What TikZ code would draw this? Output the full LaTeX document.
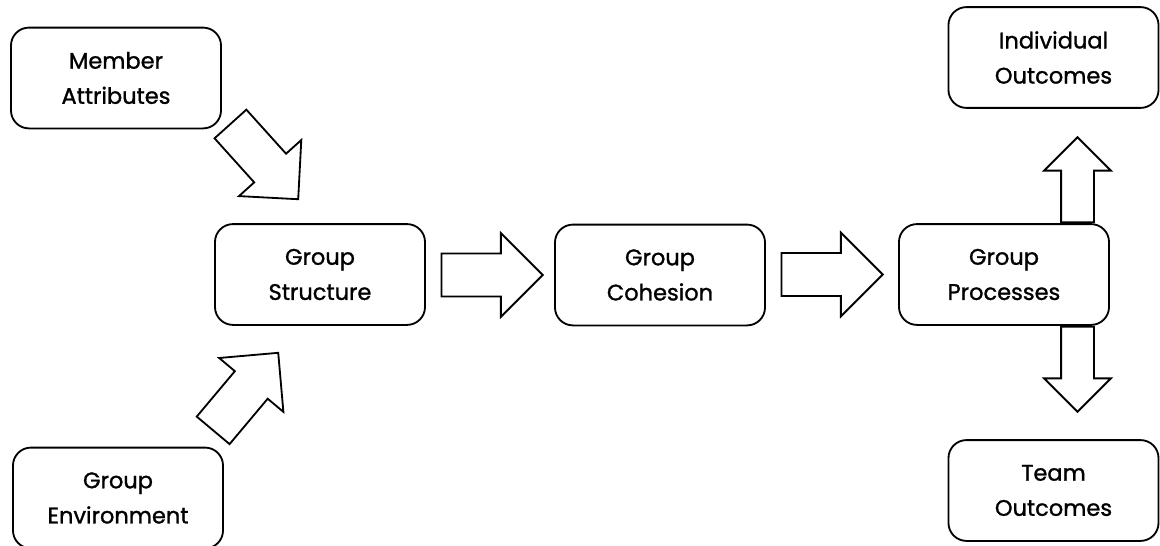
\documentclass[tikz,border=0pt]{standalone}
\usepackage{fontspec}
\setmainfont{Poppins}[FakeBold=1.2]
\usepackage{tikz}
\usetikzlibrary{calc, shapes.arrows}
\tikzstyle{box}=[draw, fill=white, rounded corners=0.45cm, line width=1.3pt, minimum width=5.25cm, minimum height=2.52cm, align=center, inner sep=0pt, font=\fontsize{16}{25}\selectfont]
\tikzstyle{fat}=[draw, fill=white, line width=1.3pt, single arrow, inner xsep=0pt, inner ysep=0.5125cm, single arrow head extend=0.5125cm, minimum height=2.53cm]
\tikzstyle{thin}=[draw, fill=white, line width=1.3pt, single arrow, inner xsep=0pt, inner ysep=0.3875cm, single arrow head extend=0.425cm, minimum height=2.125cm]

\begin{document}
\begin{tikzpicture}[x=0.025cm, y=-0.025cm]
\path[use as bounding box, clip] (0,0) rectangle (1160,546);
% the inputs
\node[box] (MA) at (116,78) {Member\\Attributes};
\node[box] (GE) at (118,498) {Group\\Environment};
% the middle row
\node[box] (GS) at (320,274.5) {Group\\Structure};
\node[box] (GC) at (660,275) {Group\\Cohesion};
\node[box] (GP) at (1004,274.5) {Group\\Processes};
% the outcomes
\node[box] (IO) at (1053.5,57.5) {Individual\\Outcomes};
\node[box] (TO) at (1053.5,490.5) {Team\\Outcomes};
% the block arrows
\node[fat, rotate=-48, anchor=tip] (A1) at ($(GS.north west)+(85,-23)$) {};
\node[fat, rotate=50, anchor=tip] (A2) at ($(GS.south west)+(65,26)$) {};
\node[fat, anchor=tip] (A3) at ($(GC.west)+(-10,0)$) {};
\node[fat, anchor=tip] (A4) at ($(GP.west)+(-14,0)$) {};
\node[thin, rotate=90, anchor=tail] (A5) at ($(GP.north)+(73.5,0)$) {};
\node[thin, rotate=-90, anchor=tail] (A6) at ($(GP.south)+(73.5,0)$) {};
\end{tikzpicture}
\end{document}
